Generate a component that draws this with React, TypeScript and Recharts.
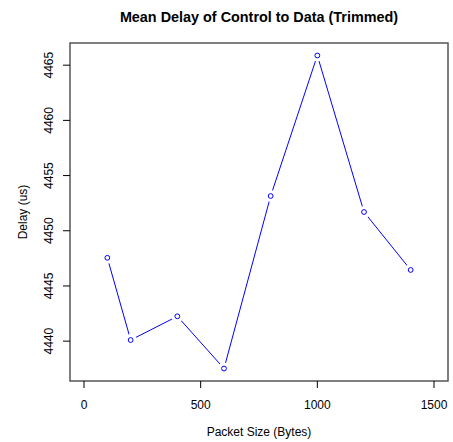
import { LineChart, Line, XAxis, YAxis, ReferenceArea } from "recharts";

// packet size (bytes) vs trimmed mean delay (us)
const packetSizes = [100, 200, 400, 600, 800, 1000, 1200, 1400];
const meanDelays = [4447.55, 4440.1, 4442.25, 4437.52, 4453.15, 4465.88, 4451.7, 4446.45];

const xTicks = [0, 500, 1000, 1500];
const yTicks = [4440, 4445, 4450, 4455, 4460, 4465];

const xDomain: [number, number] = [-60, 1560];
const yDomain: [number, number] = [4436.39, 4467.01];

const FONT = "'Liberation Sans', Arial, sans-serif";

const data = packetSizes.map((size, i) => ({ size, delay: meanDelays[i] }));

const XTick = (props: any) => {
  const { x, y, payload } = props;
  return (
    <text x={x} y={y + 19} textAnchor="middle" fontFamily={FONT} fontSize={12} fill="#000">
      {payload.value}
    </text>
  );
};

const YTick = (props: any) => {
  const { y, payload } = props;
  const bx = 53;
  return (
    <text
      x={bx}
      y={y}
      textAnchor="middle"
      transform={`rotate(-90, ${bx}, ${y})`}
      fontFamily={FONT}
      fontSize={12}
      fill="#000"
    >
      {payload.value}
    </text>
  );
};

// open circle with a white halo so the line breaks around each point
const PointMark = (props: any) => {
  const { cx, cy, index } = props;
  if (cx == null || cy == null) return <g key={index} />;
  return (
    <g key={index}>
      <circle cx={cx} cy={cy} r={6} fill="#fff" stroke="none" />
      <circle cx={cx} cy={cy} r={2.4} fill="none" stroke="#0000ff" strokeWidth={1} />
    </g>
  );
};

export default function App() {
  return (
    <div style={{ position: "absolute", left: 0, top: 0, width: 453, height: 442, background: "#fff" }}>
      <LineChart width={453} height={442} data={data} margin={{ top: 43, right: 5, bottom: 0, left: 0 }}>
        <XAxis
          dataKey="size"
          type="number"
          domain={xDomain}
          ticks={xTicks}
          height={61}
          axisLine={false}
          tickLine={{ stroke: "#000" }}
          tickSize={7}
          tick={<XTick />}
          interval={0}
          allowDataOverflow
        />
        <YAxis
          dataKey="delay"
          type="number"
          domain={yDomain}
          ticks={yTicks}
          width={70}
          axisLine={false}
          tickLine={{ stroke: "#000" }}
          tickSize={7}
          tick={<YTick />}
          interval={0}
          allowDataOverflow
        />
        <Line
          dataKey="delay"
          stroke="#0000ff"
          strokeWidth={1}
          dot={PointMark}
          activeDot={false}
          isAnimationActive={false}
        />
        <ReferenceArea
          x1={xDomain[0]}
          x2={xDomain[1]}
          y1={yDomain[0]}
          y2={yDomain[1]}
          fill="none"
          fillOpacity={0}
          stroke="#555"
          strokeWidth={1.5}
        />
        <text x={259} y={21.7} textAnchor="middle" fontFamily={FONT} fontSize={14.4} fontWeight="bold" fill="#000">
          Mean Delay of Control to Data (Trimmed)
        </text>
        <text x={259} y={436} textAnchor="middle" fontFamily={FONT} fontSize={12} fill="#000">
          Packet Size (Bytes)
        </text>
        <text
          x={26.7}
          y={212}
          textAnchor="middle"
          transform="rotate(-90, 26.7, 212)"
          fontFamily={FONT}
          fontSize={12}
          fill="#000"
        >
          Delay (us)
        </text>
      </LineChart>
    </div>
  );
}
